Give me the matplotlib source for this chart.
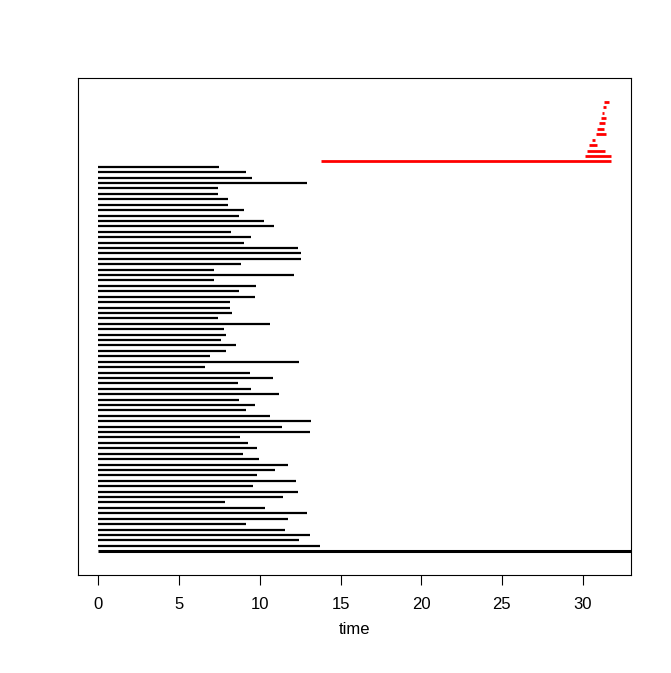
import numpy as np
import matplotlib
matplotlib.use('Agg')
import matplotlib.pyplot as plt

plt.rcParams['font.family'] = ['Liberation Sans', 'DejaVu Sans']

# black segments, bottom to top, all start at 0 (last one is open-ended)
black_end = [np.inf, 13.73, 12.41, 13.09, 11.58, 9.17, 11.73, 12.92, 10.29, 7.85,
             11.42, 12.35, 9.59, 12.22, 9.81, 10.93, 11.73, 9.96, 8.95, 9.85,
             9.24, 8.76, 13.13, 11.36, 13.15, 10.64, 9.17, 9.71, 8.72, 11.17,
             9.46, 8.66, 10.84, 9.42, 6.62, 12.41, 6.93, 7.88, 8.53, 7.59,
             7.90, 7.75, 10.62, 7.42, 8.27, 8.12, 8.18, 9.73, 8.68, 9.75,
             7.13, 12.10, 7.17, 8.86, 12.53, 12.53, 12.35, 8.99, 9.48, 8.20,
             10.86, 10.27, 8.70, 9.03, 8.04, 8.00, 7.40, 7.40, 12.90, 9.50,
             9.13, 7.48]

# red segments, bottom to top
red_start = [13.77, 30.14, 30.26, 30.38, 30.59, 30.86, 30.90, 31.03, 31.15, 31.23, 31.27, 31.33]
red_end   = [31.73, 31.73, 31.40, 30.92, 30.74, 31.46, 31.33, 31.37, 31.42, 31.35, 31.46, 31.64]

n_black = len(black_end)
n_total = n_black + len(red_start)

finite = [e for e in black_end if np.isfinite(e)] + red_end
xmax = max(finite)
xlim = (-0.04 * xmax, 1.04 * xmax)
ylim = (0 - 0.04 * (n_total + 1), (n_total + 1) * 1.04)

fig = plt.figure(figsize=(6.71, 6.73), dpi=100)
ax = fig.add_axes([78 / 671, 1 - 575 / 673, (631 - 78) / 671, (575 - 78) / 673])

yb = np.arange(1, n_black + 1)
ends = np.array([min(e, xlim[1] + 1) for e in black_end])
ax.hlines(yb[1:], 0, ends[1:], color='black', lw=1.6, capstyle='butt')
ax.hlines(yb[:1], 0, ends[:1], color='black', lw=2.2, capstyle='butt')

yr = np.arange(n_black + 1, n_total + 1)
ax.hlines(yr, red_start, red_end, color='red', lw=2.0, capstyle='butt')

ax.set_xlim(xlim)
ax.set_ylim(ylim)
ax.set_yticks([])
ax.set_xticks([0, 5, 10, 15, 20, 25, 30])
ax.tick_params(axis='x', direction='out', length=7, width=0.8, labelsize=12, pad=9)
for s in ax.spines.values():
    s.set_linewidth(0.8)
ax.set_xlabel('time', fontsize=12, labelpad=7)

fig.savefig('out.png', dpi=100)
